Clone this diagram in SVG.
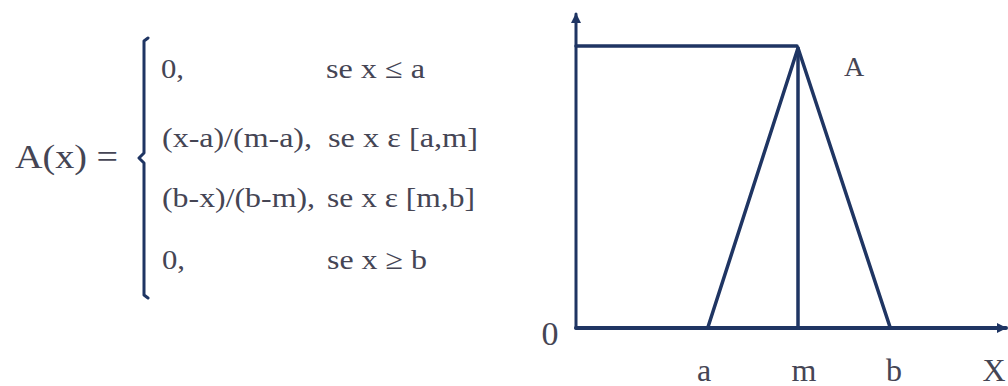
<svg xmlns="http://www.w3.org/2000/svg" width="1008" height="386" viewBox="0 0 1008 386">
<style>
.t{font-family:"Liberation Serif","Times New Roman",serif;fill:#454554}
.f{font-size:28px}
.ln{stroke:#1f3563;fill:none;stroke-linecap:round;stroke-linejoin:round}
</style>
<defs>
<marker id="ah" viewBox="0 0 10 10" refX="9" refY="5" markerWidth="10" markerHeight="10" markerUnits="userSpaceOnUse" orient="auto">
<path d="M0,0 L10,5 L0,10 Z" fill="#1f3563"/>
</marker>
</defs>
<rect width="1008" height="386" fill="#ffffff"/>
<g id="formula">
<text class="t" x="15" y="168" font-size="34" textLength="103" lengthAdjust="spacingAndGlyphs">A(x) =</text>
<path class="ln" stroke-width="3" d="M148,38 L144,41 L144,153 L139,158 L144,163 L144,295 L148,298"/>
<text class="t f" x="161" y="78" textLength="23" lengthAdjust="spacingAndGlyphs">0,</text>
<text class="t f" x="326" y="78" textLength="99" lengthAdjust="spacingAndGlyphs">se x ≤ a</text>
<text class="t f" x="162" y="147" textLength="150" lengthAdjust="spacingAndGlyphs">(x-a)/(m-a),</text>
<text class="t f" x="328" y="147" textLength="150" lengthAdjust="spacingAndGlyphs">se x ε [a,m]</text>
<text class="t f" x="162" y="207" textLength="153" lengthAdjust="spacingAndGlyphs">(b-x)/(b-m),</text>
<text class="t f" x="327" y="207" textLength="148" lengthAdjust="spacingAndGlyphs">se x ε [m,b]</text>
<text class="t f" x="162" y="269" textLength="23" lengthAdjust="spacingAndGlyphs">0,</text>
<text class="t f" x="327" y="269" textLength="100" lengthAdjust="spacingAndGlyphs">se x ≥ b</text>
</g>
<g id="connectors">
<line class="ln" stroke-width="3" x1="576" y1="328" x2="576" y2="14" marker-end="url(#ah)"/>
<line class="ln" stroke-width="4" x1="576" y1="328" x2="1006" y2="328" marker-end="url(#ah)"/>
<polyline class="ln" stroke-width="3.5" points="576,46 797,46"/>
<polyline class="ln" stroke-width="3.5" points="708,327 798,48 890,327"/>
<line class="ln" stroke-width="3.5" x1="798" y1="48" x2="798" y2="328"/>
</g>
<g id="labels">
<text class="t" x="550" y="345" font-size="34" text-anchor="middle">0</text>
<text class="t" x="854" y="76" font-size="28" text-anchor="middle">A</text>
<text class="t" x="704" y="381" font-size="32" text-anchor="middle">a</text>
<text class="t" x="804" y="381" font-size="32" text-anchor="middle">m</text>
<text class="t" x="894" y="381" font-size="32" text-anchor="middle">b</text>
<text class="t" x="994" y="381" font-size="32" text-anchor="middle">X</text>
</g>
</svg>
